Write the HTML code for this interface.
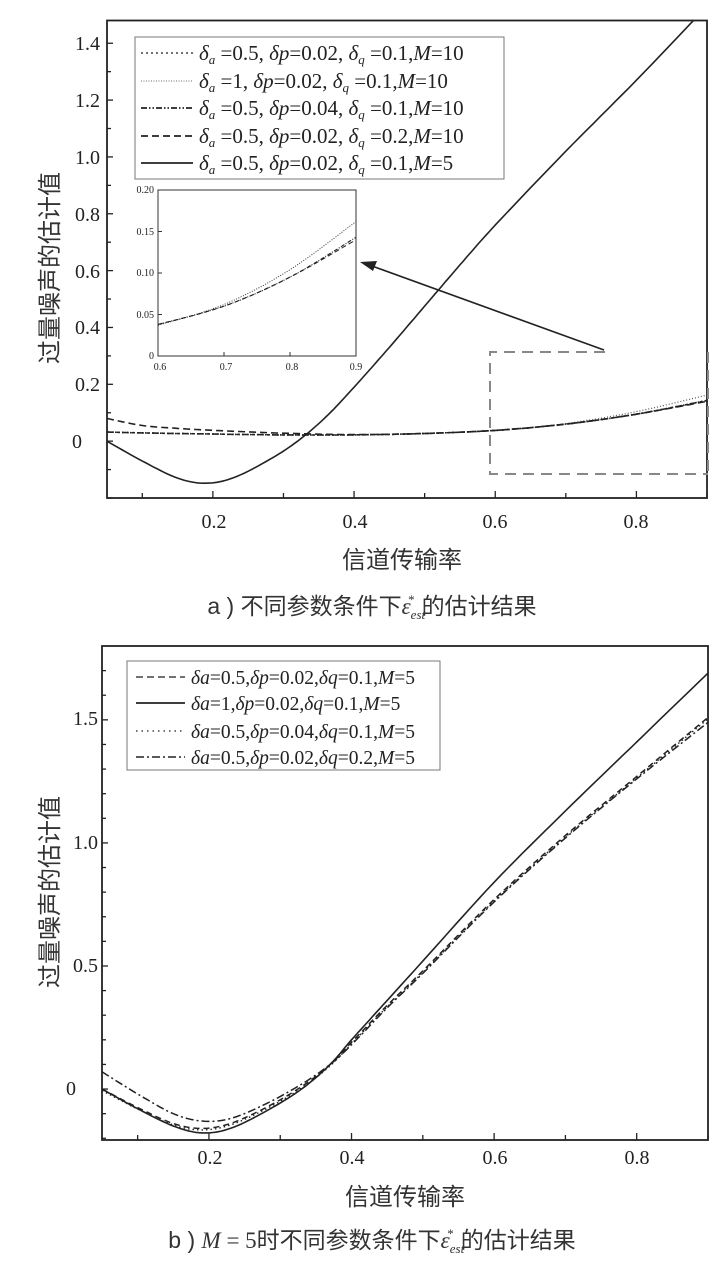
<!DOCTYPE html>
<html><head><meta charset="utf-8"><style>
body{margin:0;background:#fff;width:727px;height:1267px;overflow:hidden}
svg{display:block}
text{font-family:"Liberation Serif","Noto Serif CJK SC",serif;fill:#222}
.cj{font-family:"Liberation Sans","Noto Sans CJK SC",sans-serif;fill:#333}
</style></head><body>
<svg id="s" width="727" height="1267" viewBox="0 0 727 1267" xmlns="http://www.w3.org/2000/svg">
<g id="g"></g>
<g font-size="20" text-anchor="end">
<text x="100" y="50">1.4</text><text x="100" y="107">1.2</text><text x="100" y="164">1.0</text>
<text x="100" y="221">0.8</text><text x="100" y="278">0.6</text><text x="100" y="334">0.4</text>
<text x="100" y="391">0.2</text><text x="82" y="448">0</text>
</g>
<g font-size="20" text-anchor="middle">
<text x="214" y="528">0.2</text><text x="355" y="528">0.4</text><text x="495" y="528">0.6</text><text x="636" y="528">0.8</text>
</g>
<text class="cj" x="402" y="568" font-size="24" text-anchor="middle">信道传输率</text>
<text class="cj" transform="translate(58,268) rotate(-90)" font-size="24" text-anchor="middle">过量噪声的估计值</text>
<text class="cj" x="372" y="614" font-size="23" text-anchor="middle">a ) 不同参数条件下<tspan font-family="Liberation Serif" font-style="italic">ε</tspan><tspan font-family="Liberation Serif" font-style="italic" font-size="13" dy="5">est</tspan><tspan font-family="Liberation Serif" font-size="13" dx="-17" dy="-15">*</tspan><tspan dx="7" dy="10">的估计结果</tspan></text>
<g font-size="21" font-style="italic">
<text x="199" y="60">δ<tspan font-size="13" dy="4">a</tspan><tspan dy="-4" font-style="normal"> =0.5, </tspan>δp<tspan font-style="normal">=0.02, </tspan>δ<tspan font-size="13" dy="4">q</tspan><tspan dy="-4" font-style="normal"> =0.1,</tspan>M<tspan font-style="normal">=10</tspan></text>
<text x="199" y="88">δ<tspan font-size="13" dy="4">a</tspan><tspan dy="-4" font-style="normal"> =1, </tspan>δp<tspan font-style="normal">=0.02, </tspan>δ<tspan font-size="13" dy="4">q</tspan><tspan dy="-4" font-style="normal"> =0.1,</tspan>M<tspan font-style="normal">=10</tspan></text>
<text x="199" y="115">δ<tspan font-size="13" dy="4">a</tspan><tspan dy="-4" font-style="normal"> =0.5, </tspan>δp<tspan font-style="normal">=0.04, </tspan>δ<tspan font-size="13" dy="4">q</tspan><tspan dy="-4" font-style="normal"> =0.1,</tspan>M<tspan font-style="normal">=10</tspan></text>
<text x="199" y="143">δ<tspan font-size="13" dy="4">a</tspan><tspan dy="-4" font-style="normal"> =0.5, </tspan>δp<tspan font-style="normal">=0.02, </tspan>δ<tspan font-size="13" dy="4">q</tspan><tspan dy="-4" font-style="normal"> =0.2,</tspan>M<tspan font-style="normal">=10</tspan></text>
<text x="199" y="170">δ<tspan font-size="13" dy="4">a</tspan><tspan dy="-4" font-style="normal"> =0.5, </tspan>δp<tspan font-style="normal">=0.02, </tspan>δ<tspan font-size="13" dy="4">q</tspan><tspan dy="-4" font-style="normal"> =0.1,</tspan>M<tspan font-style="normal">=5</tspan></text>
</g>
<g font-size="10" text-anchor="end">
<text x="154" y="193">0.20</text><text x="154" y="235">0.15</text><text x="154" y="276">0.10</text>
<text x="154" y="318">0.05</text><text x="154" y="359">0</text>
</g>
<g font-size="10" text-anchor="middle">
<text x="160" y="370">0.6</text><text x="226" y="370">0.7</text><text x="292" y="370">0.8</text><text x="356" y="370">0.9</text>
</g>
<g font-size="20" text-anchor="end">
<text x="98" y="725">1.5</text><text x="98" y="849">1.0</text><text x="98" y="972">0.5</text><text x="76" y="1095">0</text>
</g>
<g font-size="20" text-anchor="middle">
<text x="210" y="1164">0.2</text><text x="352" y="1164">0.4</text><text x="495" y="1164">0.6</text><text x="637" y="1164">0.8</text>
</g>
<text class="cj" x="405" y="1205" font-size="24" text-anchor="middle">信道传输率</text>
<text class="cj" transform="translate(58,892) rotate(-90)" font-size="24" text-anchor="middle">过量噪声的估计值</text>
<text class="cj" x="372" y="1248" font-size="23" text-anchor="middle">b ) <tspan font-family="Liberation Serif" font-style="italic">M</tspan><tspan font-family="Liberation Serif"> = 5</tspan>时不同参数条件下<tspan font-family="Liberation Serif" font-style="italic">ε</tspan><tspan font-family="Liberation Serif" font-style="italic" font-size="13" dy="5">est</tspan><tspan font-family="Liberation Serif" font-size="13" dx="-17" dy="-15">*</tspan><tspan dx="7" dy="10">的估计结果</tspan></text>
<g font-size="19.5" font-style="italic">
<text x="191" y="684">δa<tspan font-style="normal">=0.5,</tspan>δp<tspan font-style="normal">=0.02,</tspan>δq<tspan font-style="normal">=0.1,</tspan>M<tspan font-style="normal">=5</tspan></text>
<text x="191" y="710">δa<tspan font-style="normal">=1,</tspan>δp<tspan font-style="normal">=0.02,</tspan>δq<tspan font-style="normal">=0.1,</tspan>M<tspan font-style="normal">=5</tspan></text>
<text x="191" y="738">δa<tspan font-style="normal">=0.5,</tspan>δp<tspan font-style="normal">=0.04,</tspan>δq<tspan font-style="normal">=0.1,</tspan>M<tspan font-style="normal">=5</tspan></text>
<text x="191" y="764">δa<tspan font-style="normal">=0.5,</tspan>δp<tspan font-style="normal">=0.02,</tspan>δq<tspan font-style="normal">=0.2,</tspan>M<tspan font-style="normal">=5</tspan></text>
</g>
</svg>
<script>
var g=document.getElementById('g'),NS='http://www.w3.org/2000/svg';
function el(t,a){var e=document.createElementNS(NS,t);for(var k in a)e.setAttribute(k,a[k]);g.appendChild(e);return e;}
function spline(pts,n){var o=[];for(var i=0;i<pts.length-1;i++){var p0=pts[Math.max(i-1,0)],p1=pts[i],p2=pts[i+1],p3=pts[Math.min(i+2,pts.length-1)];for(var j=0;j<n;j++){var t=j/n,t2=t*t,t3=t2*t;var f=function(a,b,c,d){return 0.5*(2*b+(-a+c)*t+(2*a-5*b+4*c-d)*t2+(-a+3*b-3*c+d)*t3)};o.push([f(p0[0],p1[0],p2[0],p3[0]),f(p0[1],p1[1],p2[1],p3[1])]);}}o.push(pts[pts.length-1]);return o;}
function plot(cfg){
 var X=function(v){return cfg.x0+(v-cfg.xa)/(cfg.xb-cfg.xa)*(cfg.x1-cfg.x0)},Y=function(v){return cfg.y1-(v-cfg.ya)/(cfg.yb-cfg.ya)*(cfg.y1-cfg.y0)};
 return {X:X,Y:Y,line:function(d,st){var s=spline(d,10).map(function(p){return X(p[0]).toFixed(1)+','+Y(p[1]).toFixed(1)}).join(' ');var a={points:s,fill:'none',stroke:st.c||'#222','stroke-width':st.w||1.6};if(st.d)a['stroke-dasharray']=st.d;el('polyline',a);}};
}
function clip(id,x,y,w,h){var d=document.createElementNS(NS,'clipPath');d.setAttribute('id',id);var r=document.createElementNS(NS,'rect');r.setAttribute('x',x);r.setAttribute('y',y);r.setAttribute('width',w);r.setAttribute('height',h);d.appendChild(r);g.appendChild(d);}
function sg(id){var s=document.createElementNS(NS,'g');s.setAttribute('clip-path','url(#'+id+')');g.appendChild(s);return s;}
var A=plot({x0:107,x1:707,xa:0.05,xb:0.9,y0:20.5,y1:498,ya:-0.2,yb:1.48});
clip('ca',107,20.5,600,477.5);
var ga=g;g=sg('ca');
var base=[[0.05,0.032],[0.1,0.029],[0.2,0.025],[0.3,0.022],[0.4,0.022],[0.5,0.027],[0.6,0.038],[0.7,0.06],[0.8,0.095],[0.9,0.143]];
var dot=[[0.05,0.032],[0.1,0.029],[0.2,0.025],[0.3,0.022],[0.4,0.022],[0.5,0.028],[0.6,0.037],[0.7,0.062],[0.8,0.104],[0.9,0.162]];
var dash=[[0.05,0.08],[0.1,0.055],[0.15,0.045],[0.2,0.038],[0.3,0.028],[0.4,0.023],[0.5,0.027],[0.6,0.038],[0.7,0.06],[0.8,0.095],[0.9,0.14]];
var sol=[[0.05,0],[0.1,-0.07],[0.15,-0.13],[0.19,-0.148],[0.23,-0.128],[0.28,-0.065],[0.32,0],[0.36,0.085],[0.4,0.19],[0.45,0.33],[0.5,0.475],[0.55,0.62],[0.6,0.76],[0.7,1.02],[0.8,1.27],[0.9,1.53]];
A.line(base,{d:'2,3',w:1.6});A.line(dot,{d:'1,2',w:1.2,c:'#555'});A.line(base,{d:'6,2,1.5,2,1.5,2',w:1.6});A.line(dash,{d:'7,4',w:1.6});A.line(sol,{w:1.6});
g=ga;
el('rect',{x:107,y:20.5,width:600,height:477.5,fill:'none',stroke:'#222','stroke-width':1.8});
for(var i=0;i<=16;i++){var v=-0.2+i*0.1,y=A.Y(v);if(y<22)continue;el('line',{x1:107,x2:i%2==0?113:111,y1:y,y2:y,stroke:'#222','stroke-width':1.3});}
for(var k=1;k<=9;k++){var x=A.X(k/10);el('line',{x1:x,x2:x,y1:498,y2:k%2==0?491:493,stroke:'#222','stroke-width':1.3});}
el('rect',{x:135,y:37,width:369,height:142,fill:'#fff',stroke:'#777','stroke-width':1});
var ly=[53,81,108,136,163];
el('line',{x1:141,x2:193,y1:ly[0],y2:ly[0],stroke:'#444','stroke-width':1.6,'stroke-dasharray':'2,3'});
el('line',{x1:141,x2:193,y1:ly[1],y2:ly[1],stroke:'#888','stroke-width':1.2,'stroke-dasharray':'1,1.5'});
el('line',{x1:141,x2:193,y1:ly[2],y2:ly[2],stroke:'#222','stroke-width':1.8,'stroke-dasharray':'6,2,1.5,2,1.5,2'});
el('line',{x1:141,x2:193,y1:ly[3],y2:ly[3],stroke:'#222','stroke-width':1.8,'stroke-dasharray':'7,4'});
el('line',{x1:141,x2:193,y1:ly[4],y2:ly[4],stroke:'#222','stroke-width':1.8});
var I=plot({x0:158,x1:356,xa:0.6,xb:0.9,y0:190,y1:356,ya:0,yb:0.2});
el('rect',{x:158,y:190,width:198,height:166,fill:'#fff',stroke:'#333','stroke-width':1});
clip('ci',158,190,198,166);
g=sg('ci');
I.line(dot.slice(6),{d:'1,1.5',w:1,c:'#333'});I.line(base.slice(6),{d:'4,1.5,1,1.5',w:1.1});I.line(dash.slice(7),{d:'5,3',w:1});
g=ga;
for(var i=1;i<4;i++){el('line',{x1:I.X(0.6+i*0.1),x2:I.X(0.6+i*0.1),y1:356,y2:352,stroke:'#333'});el('line',{x1:158,x2:162,y1:I.Y(i*0.05),y2:I.Y(i*0.05),stroke:'#333'});}
el('path',{d:'M605,352 H490 V474 H708',fill:'none',stroke:'#888','stroke-width':2,'stroke-dasharray':'11,7'});
el('line',{x1:708,x2:708,y1:352,y2:474,stroke:'#888','stroke-width':2,'stroke-dasharray':'11,7'});
el('line',{x1:604,y1:350,x2:372,y2:266,stroke:'#222','stroke-width':1.6});
el('polygon',{points:'360,262 377,261 373,271',fill:'#222'});
var B=plot({x0:102,x1:708,xa:0.05,xb:0.9,y0:646,y1:1140,ya:-0.207,yb:1.8});
clip('cb',102,646,606,494);
g=sg('cb');
var b1=[[0.05,0],[0.1,-0.08],[0.15,-0.15],[0.19,-0.178],[0.23,-0.16],[0.28,-0.09],[0.33,0],[0.37,0.1],[0.4,0.2],[0.45,0.36],[0.5,0.52],[0.6,0.84],[0.7,1.13],[0.8,1.41],[0.9,1.69]];
var b2=[[0.05,0],[0.1,-0.075],[0.15,-0.14],[0.19,-0.16],[0.23,-0.14],[0.28,-0.075],[0.33,0.01],[0.37,0.1],[0.4,0.19],[0.45,0.34],[0.5,0.48],[0.6,0.77],[0.7,1.03],[0.8,1.27],[0.9,1.51]];
var b3=[[0.05,0.07],[0.1,-0.02],[0.15,-0.1],[0.19,-0.13],[0.23,-0.12],[0.28,-0.06],[0.33,0.02],[0.37,0.1],[0.4,0.18],[0.45,0.33],[0.5,0.47],[0.6,0.76],[0.7,1.02],[0.8,1.26],[0.9,1.49]];
B.line(b2,{d:'6,4',w:1.5});B.line(b2.map(function(p){return [p[0],p[1]-0.006]}),{d:'1.5,3',w:1.4});B.line(b3,{d:'8,3,2,3',w:1.5});B.line(b1,{w:1.6});
g=ga;
el('rect',{x:102,y:646,width:606,height:494,fill:'none',stroke:'#222','stroke-width':1.8});
for(var i=0;i<=19;i++){var v=-0.2+i*0.1,y=B.Y(v);if(y<648)continue;var maj=Math.abs(Math.round(v*10)%5)==0;el('line',{x1:102,x2:maj?108:106,y1:y,y2:y,stroke:'#222','stroke-width':1.3});}
for(var k=1;k<=9;k++){var x=B.X(k/10);el('line',{x1:x,x2:x,y1:1140,y2:k%2==0?1133:1135,stroke:'#222','stroke-width':1.3});}
el('rect',{x:127,y:661,width:313,height:109,fill:'#fff',stroke:'#777','stroke-width':1});
var by=[677,703,731,757];
el('line',{x1:136,x2:185,y1:by[0],y2:by[0],stroke:'#444','stroke-width':1.6,'stroke-dasharray':'7,4'});
el('line',{x1:136,x2:185,y1:by[1],y2:by[1],stroke:'#222','stroke-width':1.8});
el('line',{x1:136,x2:185,y1:by[2],y2:by[2],stroke:'#444','stroke-width':1.4,'stroke-dasharray':'1.5,4'});
el('line',{x1:136,x2:185,y1:by[3],y2:by[3],stroke:'#222','stroke-width':1.6,'stroke-dasharray':'8,3,2,3'});
var s=document.getElementById('s');
var texts=[].slice.call(s.querySelectorAll(':scope > g:not(#g), :scope > text'));texts.forEach(function(t){s.appendChild(t)});
</script>
</body></html>
